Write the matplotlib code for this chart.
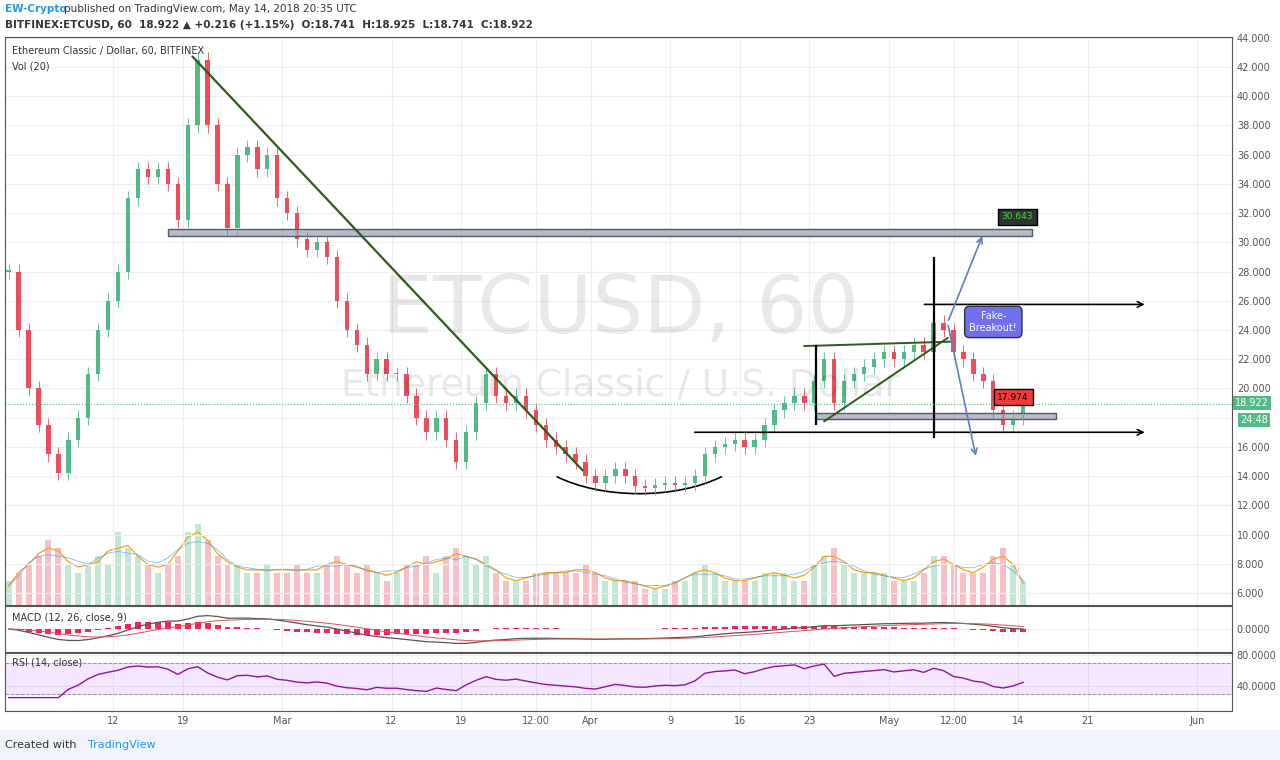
import numpy as np
import matplotlib
matplotlib.use("Agg")
import matplotlib.pyplot as plt
from matplotlib.patches import Rectangle, Arc

# daily closes, day 0 = Feb 1 2018
closes = [28, 24, 20, 17.5, 15.5, 14.2, 16.5, 18, 21, 24, 26, 28, 33, 35, 34.5, 35, 34, 31.5, 38, 42.5,
          38, 34, 31, 36, 36.5, 35, 36, 33, 32, 30.2, 29.5, 30, 29, 26, 24, 23, 21, 22, 21, 21,
          19.5, 18, 17, 18, 16.5, 15, 17, 19, 21, 19.5, 19, 19.5, 18.5, 17.5, 16.5, 16, 15.5, 15, 14,
          13.5, 14, 14.5, 14, 13.3, 13.2, 13.4, 13.5, 13.4, 13.5, 14, 15.5, 16, 16.2, 16.5, 16, 16.5,
          17.5, 18.5, 19, 19.5, 19, 20.5, 22, 19, 20.5, 21, 21.5, 22, 22.5, 22, 22.5, 23, 22.5, 24.5,
          24, 22.5, 22, 21, 20.5, 18.5, 17.5, 18, 18.9]
volumes = [3, 4, 5, 6, 8, 7, 5, 4, 5, 6, 5, 9, 7, 6, 5, 4, 5, 6, 9, 10,
           8, 6, 5, 5, 4, 4, 5, 4, 4, 5, 4, 4, 5, 6, 5, 4, 5, 4, 3, 4,
           5, 5, 6, 4, 6, 7, 6, 5, 6, 4, 3, 3, 3, 4, 4, 4, 4, 4, 5,
           4, 3, 3, 3, 3, 2, 2, 2, 3, 3, 4, 5, 4, 3, 3, 3, 3,
           4, 4, 4, 3, 3, 5, 6, 7, 5, 4, 4, 4, 4, 3, 3, 3, 4, 6,
           6, 5, 4, 4, 4, 6, 7, 5, 3]
date_ticks = [11, 18, 28, 39, 46, 53.5, 59, 67, 74, 81, 89, 95.5, 102, 109, 120]
date_labels = ["12", "19", "Mar", "12", "19", "12:00", "Apr", "9", "16", "23", "May", "12:00", "14", "21", "Jun"]
price_ticks = list(range(6, 45, 2))

closes = np.array(closes, float)
days = np.arange(len(closes)) + 0.5
opens = np.r_[closes[0], closes[:-1]]
up = closes >= opens
green, red = "#53b987", "#eb4d5c"

W, H = 1280, 760
fig = plt.figure(figsize=(12.8, 7.6), dpi=100)
def box(x0, y0, x1, y1):
    return [x0 / W, 1 - y1 / H, (x1 - x0) / W, (y1 - y0) / H]

ax = fig.add_axes(box(5, 37, 1232, 605))
vax = fig.add_axes(box(5, 37, 1232, 605), sharex=ax)
vax.set_zorder(-1)
vax.set_axis_off()
ax.patch.set_alpha(0)
macd_ax = fig.add_axes(box(5, 606, 1232, 652), sharex=ax)
rsi_ax = fig.add_axes(box(5, 653, 1232, 711), sharex=ax)
ax.set_xlim(0.13, 123.5)
ax.set_ylim(5.18, 44.05)

for a in (ax, macd_ax, rsi_ax):
    a.yaxis.tick_right()
    a.tick_params(axis="y", labelsize=7, colors="#555", length=0)
    a.tick_params(axis="x", length=0)
    for s in a.spines.values():
        s.set_color("#555")
        s.set_linewidth(0.8)
    a.grid(True, color="#eeeeee", lw=0.8)
    a.set_axisbelow(True)
ax.set_yticks(price_ticks)
ax.set_yticklabels([f"{v:.3f}" for v in price_ticks])
ax.tick_params(axis="x", labelbottom=False)
macd_ax.tick_params(axis="x", labelbottom=False)
rsi_ax.set_xticks(date_ticks)
rsi_ax.set_xticklabels(date_labels, fontsize=7, color="#555")

# candles
for d, o, c, u in zip(days, opens, closes, up):
    col = green if u else red
    lo, hi = min(o, c), max(o, c)
    ax.vlines(d, lo - 0.5, hi + 0.5, color=col, lw=0.6)
    ax.add_patch(Rectangle((d - 0.22, lo), 0.44, max(hi - lo, 0.08), color=col, lw=0))

# volume
vax.set_ylim(0, 70)
vol = np.array(volumes, float)
vax.bar(days, vol, width=0.6, color=[green if u else red for u in up], alpha=0.35)
vax.plot(days, np.convolve(vol, np.ones(3) / 3, mode="same"), color="#f7a21b", lw=0.9)
vax.plot(days, np.convolve(vol, np.ones(5) / 5, mode="same"), color="#2196f3", lw=0.6, alpha=0.6)

# drawings
ax.add_patch(Rectangle((16.5, 30.45), 86.9, 0.45, fc="#b2b5be", ec="#3c4a6b", lw=1, alpha=0.9))
ax.add_patch(Rectangle((81.7, 17.9), 24.1, 0.42, fc="#b2b5be", ec="#3c4a6b", lw=1, alpha=0.9))
ax.plot([19.0, 58.2], [42.7, 14.4], color="#2e5a1c", lw=1.6)
ax.plot([80.5, 95.2], [22.9, 23.2], color="#2e5a1c", lw=1.4)
ax.plot([82.5, 94.9], [17.75, 23.45], color="#2e5a1c", lw=1.4)
ax.add_patch(Arc((63.9, 17.0), 24.0, 8.4, theta1=200, theta2=340, color="k", lw=1.2))
ax.annotate("", xy=(115, 17.0), xytext=(69.2, 17.0),
            arrowprops=dict(arrowstyle="->", color="k", lw=1.2))
ax.annotate("", xy=(115, 25.75), xytext=(92.3, 25.75),
            arrowprops=dict(arrowstyle="->", color="k", lw=1.2))
ax.plot([81.7, 81.7], [17.55, 22.9], color="k", lw=1.6)
ax.plot([93.5, 93.5], [16.65, 28.9], color="k", lw=1.6)
ax.annotate("", xy=(98.5, 30.6), xytext=(94.9, 24.5),
            arrowprops=dict(arrowstyle="->", color="#5b7fbf", lw=1.2))
ax.annotate("", xy=(97.8, 15.2), xytext=(94.9, 24.5),
            arrowprops=dict(arrowstyle="->", color="#5b7fbf", lw=1.2))
ax.text(101.9, 31.75, "30.643", fontsize=6.5, color="#3ddc3d", ha="center", va="center",
        bbox=dict(boxstyle="square,pad=0.4", fc="#333", ec="k"))
ax.text(101.5, 19.4, "17.974", fontsize=6.5, color="k", ha="center", va="center",
        bbox=dict(boxstyle="square,pad=0.4", fc="#f23b3b", ec="k"))
ax.text(99.5, 24.55, "Fake-\nBreakout!", fontsize=7, color="white", ha="center", va="center",
        bbox=dict(boxstyle="round,pad=0.5", fc="#6f6fef", ec="#333"))
ax.axhline(18.922, color="#53b987", lw=0.8, ls=":")

# watermark
ax.text(62, 25.3, "ETCUSD, 60", fontsize=58, color="#000", alpha=0.09, ha="center", va="center")
ax.text(62, 20.2, "Ethereum Classic / U.S. Dollar", fontsize=27, color="#000", alpha=0.09,
        ha="center", va="center")
ax.text(0.006, 0.985, "Ethereum Classic / Dollar, 60, BITFINEX", transform=ax.transAxes,
        fontsize=7, va="top", color="#333")
ax.text(0.006, 0.957, "Vol (20)", transform=ax.transAxes, fontsize=7, va="top", color="#333")

# price tags on axis
fig.text(1235 / W, 1 - 403 / H, "18.922", fontsize=7, color="white", va="center",
         bbox=dict(boxstyle="square,pad=0.2", fc="#53b987", ec="none"))
fig.text(1240 / W, 1 - 420 / H, "24:48", fontsize=7, color="white", va="center",
         bbox=dict(boxstyle="square,pad=0.2", fc="#53b987", ec="none"))

# MACD from closes
def ema(x, n):
    out = np.empty_like(x)
    k = 2 / (n + 1)
    out[0] = x[0]
    for i in range(1, len(x)):
        out[i] = x[i] * k + out[i - 1] * (1 - k)
    return out
macd = ema(closes, 12) - ema(closes, 26)
sig = ema(macd, 9)
macd_ax.bar(days, macd - sig, width=0.6, color="#ff1f5a")
macd_ax.plot(days, macd, color="#555", lw=0.9)
macd_ax.plot(days, sig, color="#e05050", lw=0.7)
macd_ax.set_ylim(-6, 6)
macd_ax.set_yticks([0])
macd_ax.set_yticklabels(["0.0000"])
macd_ax.text(0.006, 0.85, "MACD (12, 26, close, 9)", transform=macd_ax.transAxes, fontsize=7,
             va="top", color="#333")

# RSI from closes
diff = np.diff(closes, prepend=closes[0])
gain = ema(np.clip(diff, 0, None), 14)
loss = ema(np.clip(-diff, 0, None), 14) + 1e-9
rsi = 100 - 100 / (1 + gain / loss)
rsi = 50 + (rsi - 50) * 0.5
rsi_ax.axhspan(30, 70, color="#9915ff", alpha=0.1)
rsi_ax.axhline(70, color="#999", ls="--", lw=0.7)
rsi_ax.axhline(30, color="#999", ls="--", lw=0.7)
rsi_ax.plot(days, rsi, color="#8e1599", lw=1)
rsi_ax.set_ylim(7.7, 82.6)
rsi_ax.set_yticks([40, 80])
rsi_ax.set_yticklabels(["40.0000", "80.0000"])
rsi_ax.text(0.006, 0.93, "RSI (14, close)", transform=rsi_ax.transAxes, fontsize=7, va="top", color="#333")

# header and footer
fig.text(5 / W, 1 - 9 / H, "EW-Crypto", fontsize=7.5, color="#2196f3", va="center", weight="bold")
fig.text(64 / W, 1 - 9 / H, "published on TradingView.com, May 14, 2018 20:35 UTC", fontsize=7.5,
         color="#333", va="center")
fig.text(5 / W, 1 - 25 / H, "BITFINEX:ETCUSD, 60  18.922 \u25b2 +0.216 (+1.15%)  O:18.741  H:18.925  L:18.741  C:18.922",
         fontsize=7.5, color="#333", va="center", weight="bold")
fig.patches.append(Rectangle((0, 0), 1, 30 / H, transform=fig.transFigure, fc="#f0f3fa", ec="none", zorder=-1))
fig.text(5 / W, 1 - 745 / H, "Created with", fontsize=8, color="#333", va="center")
fig.text(88 / W, 1 - 745 / H, "TradingView", fontsize=8, color="#2196f3", va="center")

fig.savefig("out.png", dpi=100)
